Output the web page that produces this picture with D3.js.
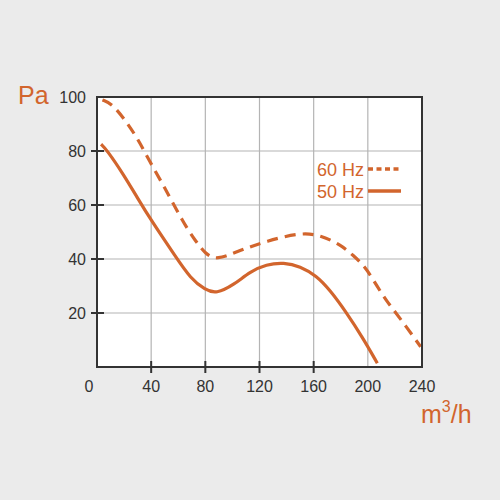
<!DOCTYPE html>
<html>
<head>
<meta charset="utf-8">
<script src="https://cdn.jsdelivr.net/npm/d3@7"></script>
<style>
  body { margin: 0; background: #ebebeb; }
  svg { display: block; }
</style>
</head>
<body>
<svg id="chart" width="500" height="500"></svg>
<script>
// air flow (m3/h) against pressure (Pa)
let flow60 = [4, 11, 20, 30, 39, 49, 64, 73, 80, 88, 106, 125, 150, 165, 180, 189, 198, 204, 214, 224, 239];
let pres60 = [98.9, 97.5, 92, 84.7, 76, 67.4, 53.2, 46.5, 42, 39.4, 43.3, 46.6, 49.8, 48.9, 45.2, 41.5, 37.1, 32.2, 24.2, 18, 7.5];

let flow50 = [3, 7, 20, 30, 40, 58, 69, 80, 88, 101, 113, 125, 138, 150, 162, 172, 184, 196, 207];
let pres50 = [82.5, 80.6, 71, 62.5, 54.3, 40.9, 32.8, 28.5, 27.1, 30.4, 35.3, 38, 38.7, 37.3, 33.8, 28.5, 20.3, 11, 1.4];

let xTickLabels = [0, 40, 80, 120, 160, 200, 240];
let yTickLabels = [20, 40, 60, 80, 100];
let xGrid = [40, 80, 120, 160, 200];
let yGrid = [20, 40, 60, 80];
let xTickMarks = [40, 80, 120, 160];
let yTickMarks = [20, 40, 60, 80];
let seriesNames = ["60 Hz", "50 Hz"];

let orange = "#d2652d";
let frameColor = "#333333";
let gridColor = "#b4b4b4";
let textColor = "#333333";
let font = "Liberation Sans, Arial, sans-serif";

let svg = d3.select("#chart");

svg.append("rect")
  .attr("width", 500)
  .attr("height", 500)
  .style("fill", "#ebebeb");

let x = d3.scaleLinear().domain([0, 240]).range([97, 422]);
let y = d3.scaleLinear().domain([0, 100]).range([367, 97]);

// plot background
svg.append("rect")
  .attr("x", x(0))
  .attr("y", y(100))
  .attr("width", x(240) - x(0))
  .attr("height", y(0) - y(100))
  .style("fill", "#ffffff");

// grid
svg.selectAll(".vgrid")
  .data(xGrid)
  .enter()
  .append("line")
  .attr("x1", d => x(d))
  .attr("x2", d => x(d))
  .attr("y1", y(100))
  .attr("y2", y(0))
  .style("stroke", gridColor)
  .style("stroke-width", 1.2);

svg.selectAll(".hgrid")
  .data(yGrid)
  .enter()
  .append("line")
  .attr("x1", x(0))
  .attr("x2", x(240))
  .attr("y1", d => y(d))
  .attr("y2", d => y(d))
  .style("stroke", gridColor)
  .style("stroke-width", 1.2);

// curves (b-spline smooths the hand-read points)
let line = d3.line()
  .x(d => x(d[0]))
  .y(d => y(d[1]))
  .curve(d3.curveBasis);

svg.append("path")
  .attr("d", line(d3.zip(flow60, pres60)))
  .style("fill", "none")
  .style("stroke", orange)
  .style("stroke-width", 3.2)
  .style("stroke-dasharray", "11,7");

svg.append("path")
  .attr("d", line(d3.zip(flow50, pres50)))
  .style("fill", "none")
  .style("stroke", orange)
  .style("stroke-width", 3.2);

// frame
svg.append("rect")
  .attr("x", x(0))
  .attr("y", y(100))
  .attr("width", x(240) - x(0))
  .attr("height", y(0) - y(100))
  .style("fill", "none")
  .style("stroke", frameColor)
  .style("stroke-width", 2);

// tick marks crossing the axes
svg.selectAll(".xtick")
  .data(xTickMarks)
  .enter()
  .append("line")
  .attr("x1", d => x(d))
  .attr("x2", d => x(d))
  .attr("y1", y(0) - 6)
  .attr("y2", y(0) + 6)
  .style("stroke", frameColor)
  .style("stroke-width", 2);

svg.selectAll(".ytick")
  .data(yTickMarks)
  .enter()
  .append("line")
  .attr("x1", x(0) - 6)
  .attr("x2", x(0) + 7)
  .attr("y1", d => y(d))
  .attr("y2", d => y(d))
  .style("stroke", frameColor)
  .style("stroke-width", 2);

// tick labels
svg.selectAll(".xlabel")
  .data(xTickLabels)
  .enter()
  .append("text")
  .attr("x", d => d === 0 ? x(d) - 8 : x(d))
  .attr("y", 392)
  .text(d => d)
  .style("font-family", font)
  .style("font-size", "16px")
  .style("text-anchor", "middle")
  .style("fill", textColor);

svg.selectAll(".ylabel")
  .data(yTickLabels)
  .enter()
  .append("text")
  .attr("x", 86)
  .attr("y", d => y(d) + 6)
  .text(d => d)
  .style("font-family", font)
  .style("font-size", "16px")
  .style("text-anchor", "end")
  .style("fill", textColor);

// unit labels
svg.append("text")
  .attr("x", 18)
  .attr("y", 104)
  .text("Pa")
  .style("font-family", font)
  .style("font-size", "25px")
  .style("fill", orange);

let unitX = svg.append("text")
  .attr("x", 421)
  .attr("y", 423)
  .style("font-family", font)
  .style("font-size", "25px")
  .style("fill", orange);
unitX.append("tspan").text("m");
unitX.append("tspan").attr("dy", -11).style("font-size", "16px").text("3");
unitX.append("tspan").attr("dy", 11).text("/h");

// legend
let legendY = [176, 198];
let legendDash = ["5,3.5", null];
seriesNames.forEach(function(name, i) {
  svg.append("text")
    .attr("x", 364)
    .attr("y", legendY[i])
    .text(name)
    .style("font-family", font)
    .style("font-size", "18px")
    .style("text-anchor", "end")
    .style("fill", orange);
  svg.append("line")
    .attr("x1", 368)
    .attr("x2", 401)
    .attr("y1", legendY[i] - 7)
    .attr("y2", legendY[i] - 7)
    .style("stroke", orange)
    .style("stroke-width", 3.5)
    .style("stroke-dasharray", legendDash[i]);
});
</script>
</body>
</html>
